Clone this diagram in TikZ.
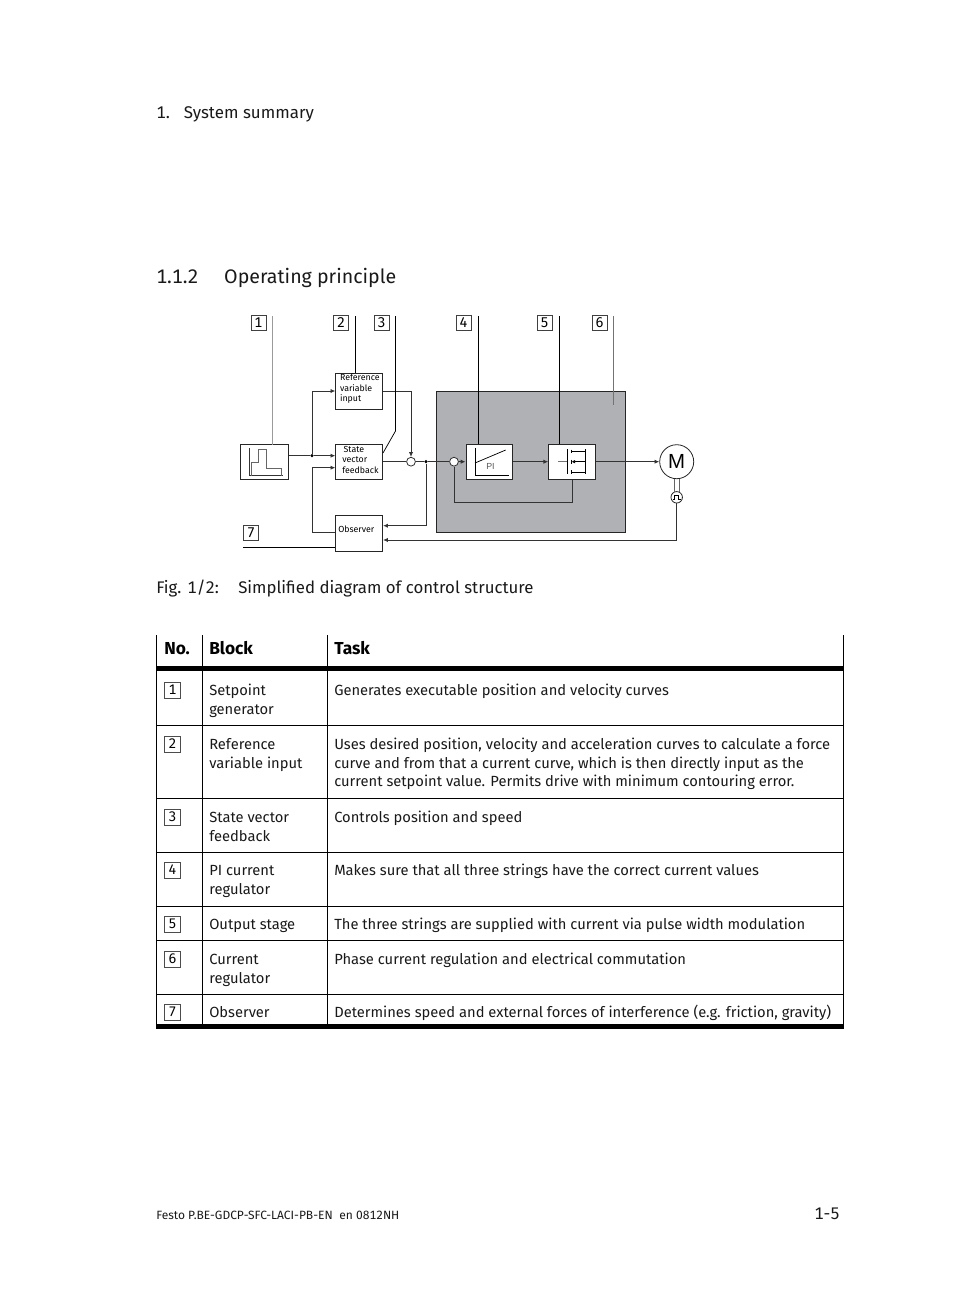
\documentclass[tikz,border=0pt]{standalone}
\usepackage{fontspec}
\setmainfont[Numbers=Monospaced]{Fira Sans}
\newfontfamily\fbhelv{Liberation Sans}
\usetikzlibrary{arrows.meta,calc}
\definecolor{fbgrau}{HTML}{B0B1B5}
\definecolor{fbleader}{HTML}{9A9A9A}
\tikzset{
  fbblock/.style={draw=black!85, fill=white, line width=0.65pt, inner sep=0pt, anchor=north west},
  fbcallout/.style={draw=black!75, line width=0.5pt, minimum size=11.2pt, inner sep=0pt, font=\fontsize{10.6}{10}\selectfont, fill=white},
  fbmini/.style={font=\fontsize{6.6}{7.9}\selectfont, align=left, anchor=north west, inner sep=0pt},
  fbpfeil/.style={-{Latex[length=3.6pt,width=3.2pt]}, line width=0.65pt, draw=black!80},
  fblinie/.style={line width=0.65pt, draw=black!80},
  fbleit/.style={line width=0.55pt, draw=black},
  fbpunkt/.style={circle, fill=black, inner sep=0pt, minimum size=2.6pt},
  fbsumme/.style={circle, draw=black!80, fill=white, line width=0.6pt, inner sep=0pt, minimum size=6.6pt},
  fbtext/.style={font=\fontsize{11.04}{14}\selectfont, anchor=base west, inner sep=0pt, text=black!90},
  fbkopf/.style={font=\fontsize{13}{14}\selectfont\bfseries, anchor=base west, inner sep=0pt},
  fbraster/.style={line width=0.75pt, draw=black},
  fbbalken/.style={draw=none, fill=black},
  fbnr/.style={draw=black!70, line width=0.45pt, minimum size=12pt, inner sep=0pt, font=\fontsize{10.4}{10}\selectfont, fill=white},
}
\begin{document}
\begin{tikzpicture}[x=0.75pt, y=-0.75pt]
  \useasboundingbox (0,0) rectangle (954,1307);
  % ---------------- page texts ----------------
  \node[fbtext, font=\fontsize{12.7}{14}\selectfont] (kapitel) at (156,118) {1.\hspace{10.5pt}System summary};
  \node[fbtext, font=\fontsize{14.7}{18}\selectfont] (abschnitt) at (156,283) {1.1.2\hspace{19.2pt}Operating principle};
  \node[fbtext, font=\fontsize{12.6}{14}\selectfont] (bild) at (156,593) {Fig. 1/2:\hspace{14.5pt}Simplified diagram of control structure};
  \node[fbtext, font=\fontsize{9}{10}\selectfont] (fuss) at (156,1219) {Festo P.BE-GDCP-SFC-LACI-PB-EN\hspace{5pt}en 0812NH};
  \node[fbtext, font=\fontsize{12.6}{14}\selectfont] (seite) at (814,1219) {1-5};
  % ---------------- grey block ----------------
  \node[fbblock, fill=fbgrau, minimum width=141.6pt, minimum height=106pt] (regler) at (436,391) {};
  % ---------------- blocks ----------------
  \node[fbblock, minimum width=35.6pt, minimum height=26pt] (sollwert) at (240.3,444.3) {};
  \node[fbblock, minimum width=35.2pt, minimum height=26.8pt] (fuehrung) at (335.3,373) {};
  \node[fbblock, minimum width=35.2pt, minimum height=26pt] (zustand) at (335.3,444.3) {};
  \node[fbblock, minimum width=35.2pt, minimum height=26.8pt] (beobachter) at (335.3,515) {};
  \node[fbblock, minimum width=35.2pt, minimum height=25.8pt] (pi) at (465.5,444.3) {};
  \node[fbblock, minimum width=35.2pt, minimum height=25.8pt] (endstufe) at (548.2,444.3) {};
  \node[fbmini] (fuehrungtxt) at (339.8,374) {Reference\\variable\\input};
  \node[fbmini] (zustandtxt) at (342,446) {\hspace{1pt}State\\vector\\feedback};
  \node[fbmini] (beobachtertxt) at (338,526) {Observer};
  \node[font=\fontsize{6.6}{7}\selectfont\fbhelv, text=black!65, inner sep=0pt] (pitxt) at (490.5,466.5) {PI};
  % ---------------- motor ----------------
  \node[circle, draw=black!85, fill=white, line width=0.6pt, minimum size=25.5pt, inner sep=0pt, font=\fontsize{15.3}{16}\selectfont\fbhelv] (motor) at (676.7,461.7) {M};
  \node[circle, draw=black!85, fill=white, line width=0.6pt, minimum size=8.6pt, inner sep=0pt] (geber) at (676.7,497.3) {};
  \draw[fblinie, draw=black!60] (674.3,479) -- (674.3,491.5);
  \draw[fblinie, draw=black!60] (679.1,479) -- (679.1,491.5);
  \draw[line width=0.5pt] (672.7,499.3) -- (674.6,499.3) -- (674.6,495) -- (678.8,495) -- (678.8,499.3) -- (680.7,499.3);
  % ---------------- junctions ----------------
  \node[fbsumme] (summe) at (411,461.7) {};
  \node[fbsumme] (stromsumme) at (454,461.7) {};
  \node[fbpunkt] (abzweig) at (312,455.7) {};
  \node[fbpunkt] (rueck) at (426,461.7) {};
  \coordinate (fuehrungein) at (335.3,391);
  \coordinate (zustandein) at (335.3,455.7);
  \coordinate (beobein) at (335.3,467.7);
  % ---------------- connectors ----------------
  \draw[fblinie] (sollwert.east |- abzweig) -- (abzweig);
  \draw[fbpfeil] (abzweig) -- (zustandein);
  \draw[fbpfeil] (abzweig) |- (fuehrungein);
  \draw[fbpfeil] (beobachter.west |- 0,532.7) -- (312,532.7) |- (beobein);
  \draw[fbpfeil] (fuehrung.east |- fuehrungein) -| (summe.north);
  \draw[fblinie] (zustand.east |- summe) -- (summe);
  \draw[fblinie] (summe) -- (rueck);
  \draw[fblinie] (rueck) -- (stromsumme);
  \draw[fbpfeil] (rueck) |- (beobachter.east |- 0,525.7);
  \draw[fbpfeil] (stromsumme) -- (pi.west |- stromsumme);
  \draw[fbpfeil] (pi.east |- stromsumme) -- (endstufe.west |- stromsumme);
  \draw[fbpfeil] (endstufe.east |- stromsumme) -- (motor);
  \draw[fblinie] (stromsumme) -- (454,502.7) -| (endstufe.south);
  \draw[fbpfeil] (geber) |- (beobachter.east |- 0,540);
  % ---------------- icons ----------------
  \draw[line width=0.6pt, draw=black!80] (249.7,448.3) -- (249.7,475.7) -- (283,475.7);
  \draw[line width=0.7pt, draw=black!60] (251.5,475.7) -- (251.5,462.3) -- (258.7,462.3) -- (258.7,449.3) -- (266.4,449.3) -- (266.4,468.3) -- (281.3,468.3) -- (281.3,475.7);
  \draw[line width=0.55pt] (475,448) -- (475,475.7) -- (509,475.7);
  \draw[line width=0.55pt] (475,463) -- (505.7,450);
  \draw[line width=0.6pt, draw=black!55] (558.3,461.7) -- (567.7,461.7);
  \draw[line width=0.7pt] (567.7,449) -- (567.7,474.3);
  \draw[line width=0.7pt] (571,449.7) -- (571,453.2) (571,459.7) -- (571,463.7) (571,470.2) -- (571,473.7);
  \draw[line width=0.55pt] (571,451.7) -- (585,451.7) (585,449) -- (585,474.3) (571,472.3) -- (585,472.3);
  \draw[line width=0.55pt, -{Latex[length=2.6pt,width=2.8pt]}] (585,461.7) -- (571.6,461.7);
  % ---------------- leaders ----------------
  \node[fbcallout] (nr1) at (258.4,322.7) {1};
  \node[fbcallout] (nr2) at (341,322.7) {2};
  \node[fbcallout] (nr3) at (381.7,322.7) {3};
  \node[fbcallout] (nr4) at (463.5,322.7) {4};
  \node[fbcallout] (nr5) at (544.5,322.7) {5};
  \node[fbcallout] (nr6) at (599.7,322.7) {6};
  \node[fbcallout] (nr7) at (251,533) {7};
  \draw[fbleit, draw=fbleader, line width=0.75pt] (272.7,316) -- (272.7,445);
  \draw[fbleit] (355,316) -- (355,373);
  \draw[fbleit] (395.5,316) -- (395.5,431) -- (383,453);
  \draw[fbleit] (478,316) -- (478,444.3);
  \draw[fbleit] (559,316) -- (559,444.3);
  \draw[fbleit, draw=black!55, line width=0.7pt] (613.7,316) -- (613.7,405);
  \draw[fbleit] (243,547.5) -- (335.3,547.5);
  % ---------------- table ----------------
  \draw[fbraster] (156.8,635) -- (156.8,1025);
  \draw[fbraster] (202.3,635) -- (202.3,1025);
  \draw[fbraster] (327.3,635) -- (327.3,1025);
  \draw[fbraster] (843.5,635) -- (843.5,1025);
  \foreach \zeile in {725.5,798.5,852.5,906.5,940.5,994.5}
    \draw[fbraster] (156.3,\zeile) -- (844,\zeile);
  \fill[fbbalken] (156.3,666) rectangle (844,671);
  \fill[fbbalken] (156.3,1024) rectangle (844,1028.5);
  \node[fbkopf] at (164,654) {No.};
  \node[fbkopf] at (209,654) {Block};
  \node[fbkopf] at (334,654) {Task};
  % ---------------- rows ----------------
  \foreach \nummer/\ypos in {1/690,2/744,3/817,4/870,5/924,6/959,7/1012}
    \node[fbnr] at (172.6,\ypos) {\nummer};
  \foreach \ypos/\inhalt in {695/Setpoint,714/generator,749/Reference,768/variable input,822/State vector,841/feedback,875/PI current,894/regulator,929/Output stage,964/Current,983/regulator,1017/Observer}
    \node[fbtext] at (209,\ypos) {\inhalt};
  \node[fbtext] at (334,695) {Generates executable position and velocity curves};
  \node[fbtext] at (334,749) {Uses desired position, velocity and acceleration curves to calculate a force};
  \node[fbtext] at (334,768) {curve and from that a current curve, which is then directly input as the};
  \node[fbtext] at (334,786) {current setpoint value. Permits drive with minimum contouring error.};
  \node[fbtext] at (334,822) {Controls position and speed};
  \node[fbtext] at (334,875) {Makes sure that all three strings have the correct current values};
  \node[fbtext] at (334,929) {The three strings are supplied with current via pulse width modulation};
  \node[fbtext] at (334,964) {Phase current regulation and electrical commutation};
  \node[fbtext] at (334,1017) {Determines speed and external forces of interference (e.g. friction, gravity)};
\end{tikzpicture}
\end{document}
